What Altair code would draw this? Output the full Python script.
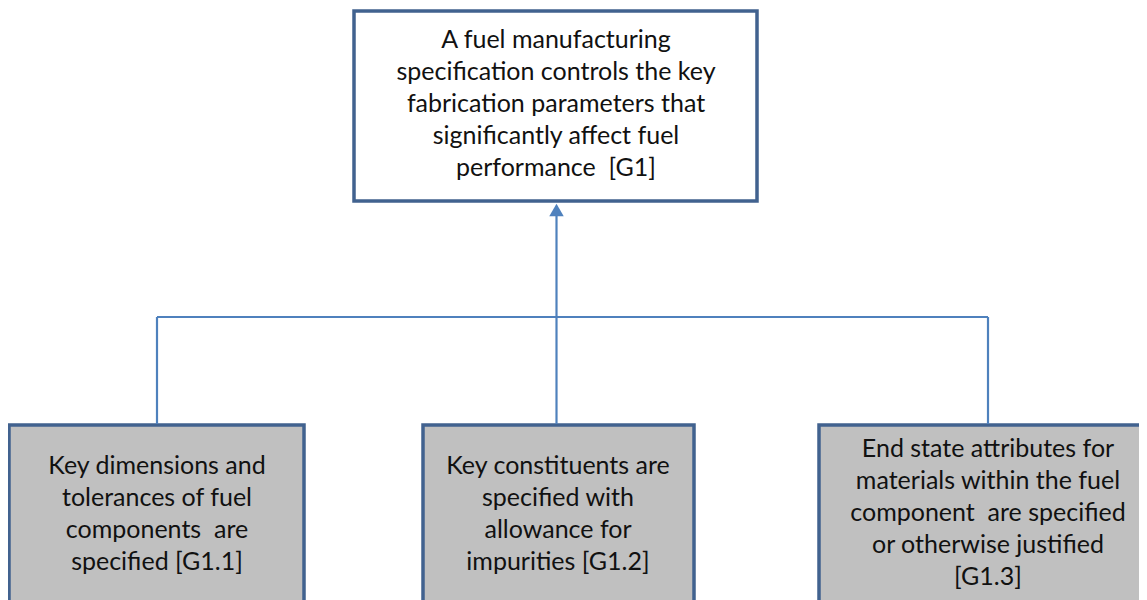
import altair as alt
import pandas as pd

# ---- content ----
NB = "\u00a0"
top_lines = ["A fuel manufacturing", "specification controls the key",
             "fabrication parameters that", "significantly affect fuel",
             "performance " + NB + "[G1]"]
child_lines = [
    ["Key dimensions and", "tolerances of fuel", "components " + NB + "are", "specified [G1.1]"],
    ["Key constituents are", "specified with", "allowance for", "impurities [G1.2]"],
    ["End state attributes for", "materials within the fuel",
     "component " + NB + "are specified", "or otherwise justified", "[G1.3]"],
]
child_ids = ["G1.1", "G1.2", "G1.3"]

# ---- layout (pixel coordinates of the page) ----
top_x = [354, 757]
top_y = [11, 201]
top_text = [556, 40]
child_x = [[9, 304], [423, 694], [819, 1170]]
child_top = 425
child_bottom = 640
child_text_x = [157, 558, 988]
child_text_y = [466, 466, 449]
branch_y = 317
branch_x = [157, 988]
arrow_x = 556.5

BORDER = "#41628f"
LINK = "#4f81bd"
FILL = "#c0c0c0"
FONT = "Lato"

W, H = 1131, 592
xs = alt.Scale(domain=[8, 8 + W], nice=False, zero=False)
ys = alt.Scale(domain=[8, 8 + H], reverse=True, nice=False, zero=False)

boxes = pd.DataFrame(
    [dict(id="G1", x=top_x[0], x2=top_x[1], y=top_y[0], y2=top_y[1], fill="white")]
    + [dict(id=i, x=cx[0], x2=cx[1], y=child_top, y2=child_bottom, fill=FILL)
       for i, cx in zip(child_ids, child_x)]
)

rects = alt.Chart(boxes).mark_rect(stroke=BORDER, strokeWidth=3.5, clip=True).encode(
    x=alt.X("x:Q", scale=xs, axis=None),
    x2="x2:Q",
    y=alt.Y("y:Q", scale=ys, axis=None),
    y2="y2:Q",
    fill=alt.Fill("fill:N", scale=None),
)

links = pd.DataFrame([
    dict(x=branch_x[0], x2=branch_x[1], y=branch_y, y2=branch_y),
    dict(x=branch_x[0], x2=branch_x[0], y=branch_y, y2=child_top - 1),
    dict(x=branch_x[1], x2=branch_x[1], y=branch_y, y2=child_top - 1),
    dict(x=arrow_x, x2=arrow_x, y=top_y[1] + 12, y2=child_top - 1),
])
rules = alt.Chart(links).mark_rule(color=LINK, strokeWidth=2.2).encode(
    x=alt.X("x:Q", scale=xs, axis=None), x2="x2:Q",
    y=alt.Y("y:Q", scale=ys, axis=None), y2="y2:Q",
)

head = alt.Chart(pd.DataFrame([dict(x=arrow_x, y=top_y[1] + 9)])).mark_point(
    shape="triangle-up", filled=True, color=LINK, size=210, opacity=1
).encode(
    x=alt.X("x:Q", scale=xs, axis=None),
    y=alt.Y("y:Q", scale=ys, axis=None),
)

texts = pd.DataFrame(
    [dict(x=top_text[0], y=top_text[1], t="\n".join(top_lines))]
    + [dict(x=tx, y=ty, t="\n".join(lines))
       for tx, ty, lines in zip(child_text_x, child_text_y, child_lines)]
)
labels = alt.Chart(texts).mark_text(
    font=FONT, fontSize=25, lineHeight=32, lineBreak="\n",
    align="center", baseline="middle", color="#111111"
).encode(
    x=alt.X("x:Q", scale=xs, axis=None),
    y=alt.Y("y:Q", scale=ys, axis=None),
    text="t:N",
)

chart = alt.layer(rects, rules, head, labels).properties(
    width=W, height=H, padding=0, autosize=alt.AutoSizeParams(type="none")
).configure_view(stroke=None)

chart.save("out.html", embed_options={"renderer": "svg", "actions": False})
